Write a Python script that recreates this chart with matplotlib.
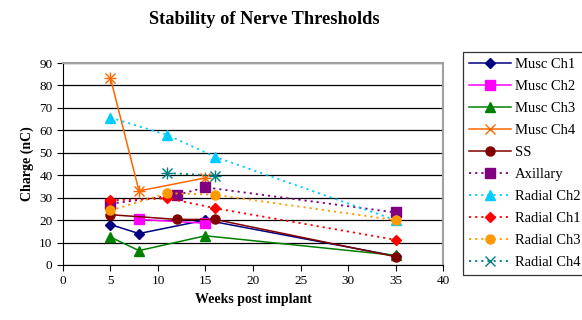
import matplotlib
matplotlib.use("Agg")
import matplotlib.pyplot as plt

plt.rcParams["font.family"] = ["Liberation Serif", "DejaVu Serif"]

# weeks / charge (nC) per channel
musc_ch1_x = [5, 8, 15, 35]
musc_ch1_y = [18, 14, 20, 4]
musc_ch2_x = [8, 15]
musc_ch2_y = [20.3, 18.6]
musc_ch3_x = [5, 8, 15, 35]
musc_ch3_y = [12.4, 6.4, 13, 4.3]
musc_ch4_x = [5, 8, 15]
musc_ch4_y = [83.3, 33, 38.8]
ss_x = [5, 12, 16, 35]
ss_y = [22.4, 20.3, 20.3, 3.7]
axillary_x = [5, 12, 15, 35]
axillary_y = [27.3, 31.2, 34.6, 23.4]
radial_ch2_x = [5, 11, 16, 35]
radial_ch2_y = [65.7, 57.9, 48.2, 20]
radial_ch1_x = [5, 11, 16, 35]
radial_ch1_y = [28.8, 29.7, 25.3, 11.2]
radial_ch3_x = [5, 11, 16, 35]
radial_ch3_y = [24.3, 32, 31.3, 20]
radial_ch4_x = [11, 16]
radial_ch4_y = [41, 39.8]

fig = plt.figure(figsize=(5.82, 3.2), dpi=100)
ax = fig.add_axes([0.1082, 0.172, 0.653, 0.631])

solid = dict(lw=1.1, ms=6.5)
dotted = dict(lw=1.3, ls=(0, (1.2, 2.2)), ms=6.5)

ax.plot(musc_ch1_x, musc_ch1_y, color="#000080", marker="D", mfc="#000080", mec="#000080", label="Musc Ch1", **dict(solid, ms=5.5))
ax.plot(musc_ch2_x, musc_ch2_y, color="#FF00FF", marker="s", mfc="#FF00FF", mec="#FF00FF", label="Musc Ch2", **solid)
ax.plot(musc_ch3_x, musc_ch3_y, color="#008000", marker="^", mfc="#008000", mec="#008000", label="Musc Ch3", **solid)
ax.plot(musc_ch4_x, musc_ch4_y, color="#FF6600", marker="x", mew=1.0, label="Musc Ch4", **dict(solid, ms=7))
ax.plot(musc_ch4_x, musc_ch4_y, color="#FF6600", marker="+", mew=1.0, ls="none", ms=8)
ax.plot(ss_x, ss_y, color="#800000", marker="o", mfc="#800000", mec="#800000", label="SS", **solid)
ax.plot(axillary_x, axillary_y, color="#800080", marker="s", mfc="#800080", mec="#800080", label="Axillary", **dotted)
ax.plot(radial_ch2_x, radial_ch2_y, color="#00CCFF", marker="^", mfc="#00CCFF", mec="#00CCFF", label="Radial Ch2", **dotted)
ax.plot(radial_ch1_x, radial_ch1_y, color="#FF0000", marker="D", mfc="#FF0000", mec="#FF0000", label="Radial Ch1", **dict(dotted, ms=5.5))
ax.plot(radial_ch3_x, radial_ch3_y, color="#FF9900", marker="o", mfc="#FF9900", mec="#FF9900", label="Radial Ch3", **dotted)
ax.plot(radial_ch4_x, radial_ch4_y, color="#008080", marker="x", mew=1.0, label="Radial Ch4", **dict(dotted, ms=7))
ax.plot(radial_ch4_x, radial_ch4_y, color="#008080", marker="+", mew=1.0, ls="none", ms=8)

ax.set_xlim(0, 40)
ax.set_ylim(0, 90)
ax.set_xticks(range(0, 41, 5))
ax.set_yticks(range(0, 91, 10))
ax.yaxis.grid(True, color="black", lw=0.9)
ax.set_axisbelow(True)
for s in ["top", "right"]:
    ax.spines[s].set_color("#a0a0a0")
    ax.spines[s].set_linewidth(1.5)
ax.tick_params(labelsize=9.5, length=4, direction="out")
ax.set_xlabel("Weeks post implant", fontsize=10, fontweight="bold")
ax.set_ylabel("Charge (nC)", fontsize=10, fontweight="bold")

fig.suptitle("Stability of Nerve Thresholds", x=0.455, y=0.965, fontsize=13.2, fontweight="bold")

leg = fig.legend(loc="upper left", bbox_to_anchor=(0.7955, 0.8375), fontsize=10.5, frameon=True,
                 fancybox=False, edgecolor="black", handlelength=2.9, labelspacing=0.6,
                 borderpad=0.4, handletextpad=0.25, borderaxespad=0)
leg.get_frame().set_linewidth(0.9)

fig.savefig("out.png", dpi=100)
